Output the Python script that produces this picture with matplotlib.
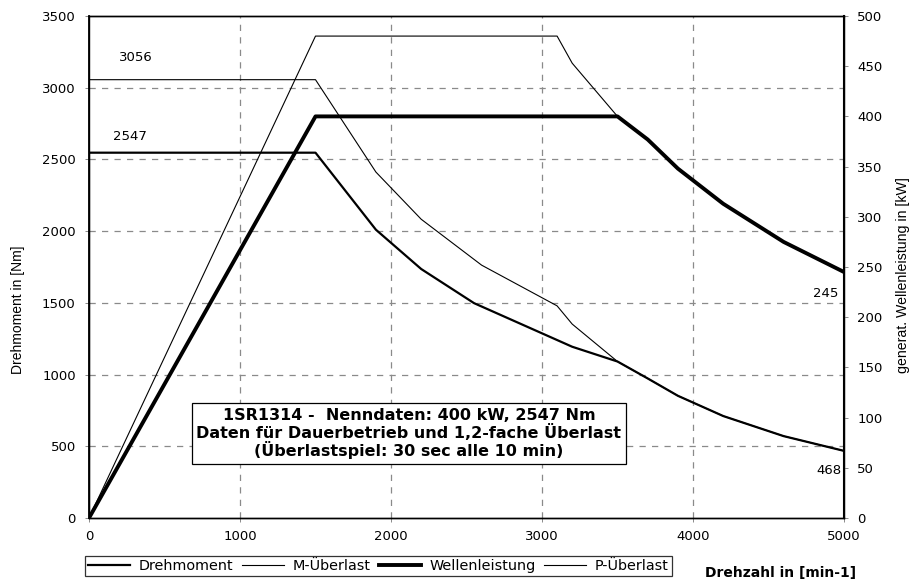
import matplotlib
matplotlib.use("Agg")
import matplotlib.pyplot as plt

plt.rcParams['font.family'] = ['DejaVu Sans']

# ---- data ----
speed_torque = [0, 0, 1500, 1900, 2200, 2550, 3200, 3500, 3700, 3900, 4200, 4600, 5000]
drehmoment   = [0, 2547, 2547, 2010, 1736, 1498, 1194, 1091, 973, 852, 711, 571, 468]

speed_m_over = [0, 1500, 1900, 2200, 2600, 3100, 3200, 3500, 3700, 3900, 4200, 4600, 5000]
m_ueberlast  = [3056, 3056, 2412, 2083, 1763, 1479, 1352, 1091, 973, 852, 711, 571, 468]

speed_power    = [0, 1500, 3500, 3700, 3900, 4200, 4600, 5000]
wellenleistung = [0, 400, 400, 377, 348, 313, 275, 245]

speed_p_over = [0, 1500, 3100, 3200, 3500, 3700, 3900, 4200, 4600, 5000]
p_ueberlast  = [0, 480, 480, 453, 400, 377, 348, 313, 275, 245]

x_ticks = [0, 1000, 2000, 3000, 4000, 5000]
torque_ticks = [0, 500, 1000, 1500, 2000, 2500, 3000, 3500]
power_ticks = [0, 50, 100, 150, 200, 250, 300, 350, 400, 450, 500]

series_names = ["Drehmoment", "M-Überlast", "Wellenleistung", "P-Überlast"]
info_lines = ["1SR1314 -  Nenndaten: 400 kW, 2547 Nm",
              "Daten für Dauerbetrieb und 1,2-fache Überlast",
              "(Überlastspiel: 30 sec alle 10 min)"]

# ---- figure ----
W, H = 915, 581
fig = plt.figure(figsize=(W / 100, H / 100), dpi=100)
L, R, T, B = 89, 844, 16, 518
ax = fig.add_axes([L / W, 1 - B / H, (R - L) / W, (B - T) / H])
ax2 = ax.twinx()

ax.set_xlim(0, 5000)
ax.set_ylim(0, 3500)
ax2.set_ylim(0, 500)

ax.set_xticks(x_ticks)
ax.set_yticks(torque_ticks)
ax2.set_yticks(power_ticks)

grid_kw = dict(color='#8a8a8a', linewidth=0.9, linestyle=(0, (5, 5)))
for xv in x_ticks[1:-1]:
    ax.axvline(xv, zorder=0, **grid_kw)
for yv in torque_ticks[1:-1]:
    ax.axhline(yv, zorder=0, **grid_kw)

l1, = ax.plot(speed_torque, drehmoment, color='black', linewidth=1.6)
l2, = ax.plot(speed_m_over, m_ueberlast, color='black', linewidth=0.8)
l3, = ax2.plot(speed_power, wellenleistung, color='black', linewidth=2.8)
l4, = ax2.plot(speed_p_over, p_ueberlast, color='black', linewidth=0.8)

for a in (ax, ax2):
    for s in a.spines.values():
        s.set_color('black')
        s.set_linewidth(1.0)
ax2.spines['right'].set_linewidth(1.5)
ax.spines['left'].set_linewidth(1.3)

ax.tick_params(axis='both', direction='out', length=3, width=0.6, color='#777777',
               labelsize=9.5, pad=6.5)
ax.tick_params(axis='x', pad=6)
ax2.tick_params(axis='y', direction='out', length=3, width=0.6, color='#777777',
                labelsize=9.5, pad=6.5)

# labels
lab_font = ['Liberation Sans', 'DejaVu Sans']
fig.text(18 / W, 1 - 310 / H, "Drehmoment in [Nm]", rotation=90, ha='center', va='center',
         fontsize=10, family=lab_font)
fig.text(903 / W, 1 - 275 / H, "generat. Wellenleistung in [kW]", rotation=90,
         ha='center', va='center', fontsize=10.2, family=lab_font)
fig.text(781 / W, 1 - 573 / H, "Drehzahl in [min-1]", ha='center', va='center',
         fontsize=10, fontweight='bold')

# value annotations
ax.text(200, 3214, "3056", ha='left', va='center', fontsize=9.5)
ax.text(160, 2663, "2547", ha='left', va='center', fontsize=9.5)
ax2.text(4960, 224, "245", ha='right', va='center', fontsize=9.5)
ax.text(4985, 328, "468", ha='right', va='center', fontsize=9.5)

# info box
ax.text(2119, 589, "\n".join(info_lines), ha='center', va='center', multialignment='center',
        fontsize=11.5, fontweight='bold', linespacing=1.02,
        bbox=dict(boxstyle='square,pad=0.3', facecolor='white', edgecolor='black',
                  linewidth=0.9), zorder=5)

# legend
leg = fig.legend([l1, l2, l3, l4], series_names, loc='lower left',
                 bbox_to_anchor=(85 / W, 5 / H), ncol=4, frameon=True, fancybox=False,
                 edgecolor='black', fontsize=10.4, handlelength=2.9, handletextpad=0.6,
                 columnspacing=0.6, borderpad=0.2, borderaxespad=0)
leg.get_frame().set_linewidth(0.9)

fig.savefig("out.png", dpi=100)
